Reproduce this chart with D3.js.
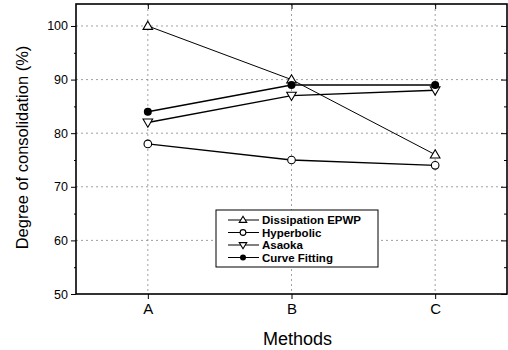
<!DOCTYPE html>
<html><head><meta charset="utf-8">
<script src="https://cdn.jsdelivr.net/npm/d3@7"></script>
<style>body{margin:0;background:#fff}svg{display:block}text{font-family:Arial,"Liberation Sans",sans-serif}</style>
</head><body>
<svg id="c" width="508" height="350"></svg>
<script>
const categories = ["A","B","C"];
const seriesNames = ["Dissipation EPWP","Hyperbolic","Asaoka","Curve Fitting"];
const dissipation = [100, 90, 76];
const hyperbolic = [78, 75, 74];
const asaoka = [82, 87, 88];
const curveFitting = [84, 89, 89];
const yTicks = [50,60,70,80,90,100];

const series = [
  {name: seriesNames[0], values: dissipation, marker: "up", width: 1},
  {name: seriesNames[1], values: hyperbolic, marker: "circle", width: 1.4},
  {name: seriesNames[2], values: asaoka, marker: "down", width: 1.4},
  {name: seriesNames[3], values: curveFitting, marker: "dot", width: 1.4}
];

const L=76, R=507, T=4, B=294;
const svg = d3.select("#c");
const x = d3.scalePoint().domain(categories).range([L,R]).padding(0.5);
const y = d3.scaleLinear().domain([50,104.1]).range([B,T]);

// grid
const g = svg.append("g");
g.selectAll(".hg").data(yTicks.filter(d=>d>50)).join("line")
  .attr("x1",L).attr("x2",R).attr("y1",d=>y(d)).attr("y2",d=>y(d))
  .attr("stroke","#888").attr("stroke-width",0.8).attr("stroke-dasharray","2,3");
g.selectAll(".vg").data(categories).join("line")
  .attr("x1",d=>x(d)).attr("x2",d=>x(d)).attr("y1",T).attr("y2",B)
  .attr("stroke","#888").attr("stroke-width",0.8).attr("stroke-dasharray","2,3");

// axes
const minor = d3.range(55,104,10);
svg.append("g").attr("transform",`translate(${L},0)`)
  .call(d3.axisLeft(y).tickValues(yTicks).tickSize(5).tickPadding(3))
  .call(a=>a.select(".domain").remove())
  .call(a=>a.selectAll("text").attr("font-size",12.5).attr("fill","#000"));
svg.append("g").attr("transform",`translate(${L},0)`)
  .call(d3.axisLeft(y).tickValues(minor).tickSize(2).tickFormat(""))
  .call(a=>a.select(".domain").remove());
svg.append("g").attr("transform",`translate(${R},0)`)
  .call(d3.axisRight(y).tickValues(yTicks).tickSize(-6).tickFormat(""))
  .call(a=>a.select(".domain").remove());
svg.append("g").attr("transform",`translate(${R},0)`)
  .call(d3.axisRight(y).tickValues(minor).tickSize(-3).tickFormat(""))
  .call(a=>a.select(".domain").remove());
svg.append("g").attr("transform",`translate(0,${B})`)
  .call(d3.axisBottom(x).tickSize(5).tickPadding(4))
  .call(a=>a.select(".domain").remove())
  .call(a=>a.selectAll("text").attr("font-size",15).attr("fill","#000"));
svg.append("g").attr("transform",`translate(0,${T})`)
  .call(d3.axisTop(x).tickSize(-5).tickFormat(""))
  .call(a=>a.select(".domain").remove());
svg.append("rect").attr("x",L).attr("y",T).attr("width",R-L).attr("height",B-T)
  .attr("fill","none").attr("stroke","#000").attr("stroke-width",1.6);

// titles
svg.append("text").attr("transform",`translate(28,147.5) rotate(-90)`)
  .attr("text-anchor","middle").attr("font-size",16.5).text("Degree of consolidation (%)");
svg.append("text").attr("x",(L+R)/2 + 6).attr("y",345).attr("text-anchor","middle")
  .attr("font-size",18).text("Methods");

// markers
function drawMarker(sel, type, cx, cy, k){
  k = k || 1;
  const s=4.2*k;
  if(type==="circle") sel.append("circle").attr("cx",cx).attr("cy",cy).attr("r",3.8*k).attr("fill","#fff").attr("stroke","#000").attr("stroke-width",1.1);
  else if(type==="dot") sel.append("circle").attr("cx",cx).attr("cy",cy).attr("r",4*k).attr("fill","#000");
  else if(type==="up") sel.append("path").attr("d",`M${cx},${cy-s-0.6}L${cx+s+0.6},${cy+s-0.8}L${cx-s-0.6},${cy+s-0.8}Z`).attr("fill","#fff").attr("stroke","#000").attr("stroke-width",1.1);
  else sel.append("path").attr("d",`M${cx},${cy+s+0.6}L${cx+s+0.6},${cy-s+0.8}L${cx-s-0.6},${cy-s+0.8}Z`).attr("fill","#fff").attr("stroke","#000").attr("stroke-width",1.1);
}

const line = d3.line().x((d,i)=>x(categories[i])).y(d=>y(d));
series.forEach(s=>{
  svg.append("path").attr("d",line(s.values)).attr("fill","none").attr("stroke","#000").attr("stroke-width",s.width);
});
series.forEach(s=>{
  const mg = svg.append("g");
  s.values.forEach((v,i)=>drawMarker(mg,s.marker,x(categories[i]),y(v)));
});

// legend
const lg = svg.append("g");
lg.append("rect").attr("x",216).attr("y",210).attr("width",162).attr("height",57)
  .attr("fill","#fff").attr("stroke","#000").attr("stroke-width",1);
series.forEach((s,i)=>{
  const yy = 220 + i*12.5;
  lg.append("line").attr("x1",228).attr("x2",259).attr("y1",yy).attr("y2",yy).attr("stroke","#000").attr("stroke-width",1);
  drawMarker(lg,s.marker,243,yy,0.75);
  lg.append("text").attr("x",262).attr("y",yy+4).attr("font-size",11.5).attr("font-weight","bold").text(s.name);
});
</script>
</body></html>
